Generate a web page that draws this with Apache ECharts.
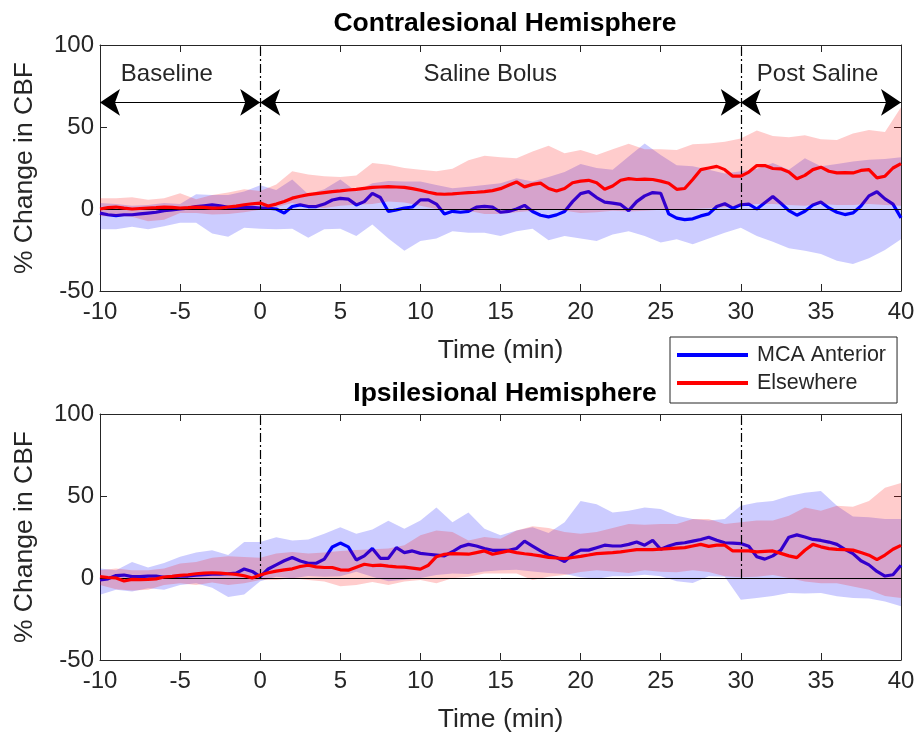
<!DOCTYPE html>
<html><head><meta charset="utf-8">
<script src="https://cdn.jsdelivr.net/npm/echarts@6/dist/echarts.min.js"></script>
<style>html,body{margin:0;padding:0;background:#fff}#chart{width:918px;height:740px}</style>
</head><body><div id="chart"></div>
<script>
// ---- time grids (minutes) ----
const timeHalf = [-10,-9.5,-9,-8.5,-8,-7.5,-7,-6.5,-6,-5.5,
-5,-4.5,-4,-3.5,-3,-2.5,-2,-1.5,-1,-0.5,
0,0.5,1,1.5,2,2.5,3,3.5,4,4.5,
5,5.5,6,6.5,7,7.5,8,8.5,9,9.5,
10,10.5,11,11.5,12,12.5,13,13.5,14,14.5,
15,15.5,16,16.5,17,17.5,18,18.5,19,19.5,
20,20.5,21,21.5,22,22.5,23,23.5,24,24.5,
25,25.5,26,26.5,27,27.5,28,28.5,29,29.5,
30,30.5,31,31.5,32,32.5,33,33.5,34,34.5,
35,35.5,36,36.5,37,37.5,38,38.5,39,39.5,
40];
const timeMin = [-10,-9,-8,-7,-6,-5,-4,-3,-2,-1,
0,1,2,3,4,5,6,7,8,9,
10,11,12,13,14,15,16,17,18,19,
20,21,22,23,24,25,26,27,28,29,
30,31,32,33,34,35,36,37,38,39,
40];

// ---- Contralesional hemisphere ----
const contraMcaMean = [-2.5,-3.5,-4,-3.5,-3.5,-3,-2.5,-2,-1,-0.5,
0,0.5,1.5,2,2.5,2,1,1,1,1,
0.5,0.5,0,-2.5,1.5,2.5,1.5,1.5,3,5.5,
6.5,6,2.5,4.5,9.5,7,-1.5,-0.5,0.6,1.2,
5.6,5.6,3,-3,-1.4,-2,-1.5,1.2,1.6,1.2,
-2,-1.5,0,2.2,-1.5,-3.8,-4.8,-3.6,-1.5,4.5,
9.4,10.6,7,4.2,3.6,2.8,-1,4.5,8,10,
9.6,-3,-5.6,-6.5,-6,-4.2,-3,1.5,3.2,0.5,
2.6,3,0,3.8,7.6,3.5,-1,-3.8,-1.4,2.5,
4.2,0.6,-2,-3.4,-2.4,1.8,8,10.5,6.2,3,
-5.4];
const contraElseMean = [0,0.8,1.2,0.5,0,0.3,0.6,0.8,1.2,1,
0.6,0.8,1.2,1,0.5,0.6,1.2,1.8,2.6,3.2,
3.6,1.8,3,4.6,6.6,7.8,8.8,9.4,10,10.6,
11,11.6,12,12.6,13.2,13.4,13.6,13.4,13.2,12.4,
11.4,10.2,9.2,9,9.2,9.6,10,10.2,10.6,11.2,
12.4,14.5,16.5,13.5,15,15.8,12.5,11,12.5,16,
17,17.5,16,12,14,17.5,18.5,18,18.2,18,
17,15.7,12,12.5,18,24,25,26,24,20,
20,22.5,26.5,26.5,24.7,24.5,22.5,18.5,20.5,24,
25.5,23,22,22.2,22,23.5,24,19,20,25,
27.7];
const contraMcaUpper = [3.6,3,2,2.5,3.6,3,9,8.6,8.6,10.6,
14.5,11.6,18,9,12,18,10.6,15.7,17,16.7,
16.7,14.7,12.6,13.6,14.7,15.7,18.7,16.7,19.5,22.5,
27.5,25,24,32,40,33,26.7,26,24,21.7,
23,24.5,28,24,31,26,27.5,29,30,30.5,
31.5];
const contraMcaLower = [-12.4,-12.4,-10.8,-12.4,-10.5,-8.4,-8.4,-15,-16.9,-11.4,
-12,-12.4,-12,-17.5,-12.4,-12,-16.5,-9.4,-18,-25.5,
-19.5,-18,-13.5,-14.5,-14.5,-16.5,-13.5,-12,-19,-16.5,
-18,-19.5,-15.5,-13.5,-16.5,-20.5,-18.5,-21.5,-18,-14.5,
-11.4,-16.5,-20,-24,-25.5,-27.5,-31.5,-33.5,-30,-25,
-18.5];
const contraElseUpper = [6.6,6.6,7.2,5.6,6.6,9.6,6,8.5,10,12,
11,15,23,21,20,19.5,20.5,28,27,25,
24,23,24.5,29.7,32.5,31.5,31,35,38.5,34,
36,33,36.5,39.8,36.5,36.5,36,39.5,40,41,
43,47.8,44.5,43.8,45,42.5,42,46,48.2,47,
62];
const contraElseLower = [-4.4,-4.4,-4.8,-7.4,-6.5,-2.4,-2.4,-3.4,-3,-2,
-0.5,1,3.6,1,0.6,2,2.6,3,4.6,4,
2,0,0,-1,-3,-3,-2,-1,0,-1,
-2.5,-2,-1,-1.5,-1,-0.5,0,0,0.5,1,
2,3,3,2.5,2,3,2.5,2.5,3,2.5,
2];

// ---- Ipsilesional hemisphere ----
const ipsiMcaMean = [-1.2,-0.5,1.5,1.8,0.8,0.8,1.2,1.2,0.4,0.8,
1.2,1.2,1.8,2,2.4,2.4,2.6,3,5.5,4,
0.8,5.5,8,10.5,12.5,10.4,9,9,11.5,18.9,
21.3,19,11,13.5,18,12,12,18.5,15.5,16.5,
15,14.5,14,13.5,16,19,20.5,19.5,18,16.9,
16.9,16.9,18,22.5,19.5,16.5,13.9,12.5,10,14.5,
17,17,18.5,20,19.5,19.5,20.5,21.9,20,22.9,
17.5,19.5,21,21.5,22.5,23.5,24.9,23,21.5,21.3,
21,19.3,13,11.5,13.5,17,24.9,26.3,25,23.5,
22.9,21.9,20.5,17.5,14.9,10.5,8,4,1.2,2,
7.8];
const ipsiElseMean = [0.8,0.3,0,-1.8,-0.8,-1,-0.8,-0.5,0.6,1,
1.6,2,2.6,3,3.2,3,2.6,2.2,1.4,0,
1.8,3.2,4.2,5,5.6,7,7.8,6.8,6.4,6.4,
5,4.8,6.6,8.4,7.6,7.8,7.2,6.8,6.6,6,
5.4,7.8,13,14.5,14.9,14.7,14.5,15.5,16.5,14.5,
15.5,16.5,15.5,14.8,14.2,13.5,12.6,12.2,11.8,12.5,
13.2,14,14.9,15.2,15.5,15.9,16.6,17.3,17.3,17.3,
17.6,17.9,18.2,18.5,19.5,20.5,19.3,20,20,16.5,
16.5,16.5,15.9,16.2,16.5,15,13.5,12.4,16.9,20.5,
19,17.9,17.5,17.3,17,15.5,13.9,11.2,14,17.5,
19.9];
const ipsiMcaUpper = [5.8,4.8,9.8,6.4,9.2,13,15.5,16.9,14,21.9,
22,24.9,22.9,23.5,27,30.9,27,29.5,34.9,30,
35,43,34,40,30,26,29,31,27.5,34,
47,45,40,41,43,42,38,36,35,36,
44,46,47,50,52,53,44,37.5,37,36,
35.9];
const ipsiMcaLower = [-10.2,-7.2,-8.2,-6.2,-7.2,-4.2,-3.2,-6,-11.6,-10,
-2,0.8,-0.2,1.2,0.8,1,3.8,0.8,-2,-1,
0,1.8,2.8,2.5,4,4.8,5,4,3,2.5,
0.5,-0.5,1,1,2,1,-2,-3,1,0.8,
-13.3,-12.2,-11,-9.2,-9.5,-9.2,-11.2,-12.2,-12.5,-14.3,
-17.3];
const ipsiElseUpper = [4.8,5.8,4.8,4.8,5.8,8.8,9.8,12.4,13.2,12.8,
12.4,14.9,15.9,14.9,15.5,16.5,17,17.5,18,20,
26,28.9,28,22.9,25,24,29,31.5,30.5,28,
27,28,30.5,33,32.5,33,33,36,36,33,
34,35,35,38,43,41,44,43.5,47,55,
58];
const ipsiElseLower = [-4.2,-6.8,-7.6,-7.2,-4.2,-3.2,-4.2,-2.8,-4.2,-3.2,
-1.2,-1.2,-0.2,-1.2,-2.2,-5,-4.2,-2.5,-4.2,-2.2,
-1.2,-3.2,-0.2,0.8,2.8,2.8,2.8,-1.2,0.8,1.8,
3.6,4.8,4,3,4.8,3.8,3.5,4.8,3.6,1,
0.5,0.8,1.8,0,-2.2,-3.2,-3.2,-5.2,-7.2,-11,
-12.2];

// ---- labels ----
const seriesNames = ['MCA Anterior', 'Elsewhere'];
const panelTitles = ['Contralesional Hemisphere', 'Ipsilesional Hemisphere'];
const xAxisTitle = 'Time (min)';
const yAxisTitle = '% Change in CBF';
const phaseBounds = [0, 30];
const phaseSpans = [[-10, 0], [0, 30], [30, 40]];
const phaseLabels = ['Baseline', 'Saline Bolus', 'Post Saline'];
const phaseLabelX = [-8.7, 10.2, 31];
const phaseArrowY = 65;
const phaseLabelY = 82;

const FONT = '"Liberation Sans", Arial, Helvetica, sans-serif';
const AX = '#262626';
const BLUE = '#0000FF', RED = '#FF0000';
const BLUE_BAND = 'rgba(0,0,255,0.2)', RED_BAND = 'rgba(255,0,0,0.2)';

function pairs(t, v) { return t.map((x, i) => [x, v[i]]); }

function bandSeries(name, g, t, lo, hi, color, z, extra) {
  const data = t.map((x, i) => [x, lo[i], hi[i]]);
  const s = {
    type: 'custom', name: name, xAxisIndex: 2 * g, yAxisIndex: 2 * g, z: z, silent: true,
    data: data, encode: { x: 0, y: [1, 2] }, clip: true,
    renderItem: function (params, api) {
      if (params.dataIndex !== 0) return null;
      const pts = [];
      for (let i = 0; i < data.length; i++) pts.push(api.coord([data[i][0], data[i][2]]));
      for (let i = data.length - 1; i >= 0; i--) pts.push(api.coord([data[i][0], data[i][1]]));
      return { type: 'polygon', shape: { points: pts }, style: { fill: color } };
    }
  };
  return Object.assign(s, extra || {});
}

function lineSeries(name, g, t, v, color, z, extra) {
  return Object.assign({
    type: 'line', name: name, xAxisIndex: 2 * g, yAxisIndex: 2 * g, z: z,
    data: pairs(t, v), showSymbol: false, symbol: 'none', smooth: false,
    lineStyle: { color: color, width: 3.2 }, itemStyle: { color: color },
    silent: true, animation: false
  }, extra || {});
}

function refLines() {
  const d = [{ yAxis: 0, lineStyle: { color: '#000', width: 1, type: 'solid' } }];
  phaseBounds.forEach(b => d.push([
    { coord: [b, 0], lineStyle: { color: '#000', width: 1.2, type: [9, 3, 2, 3] } },
    { coord: [b, 100] }
  ]));
  return { silent: true, symbol: 'none', label: { show: false }, data: d, animation: false };
}

const grids = [
  { left: 100, right: 17, top: 45, height: 246 },
  { left: 100, right: 17, top: 414, height: 246 }
];

const xAxis = [], yAxis = [];
[0, 1].forEach(g => {
  const lineS = { show: true, onZero: false, lineStyle: { color: AX, width: 1 } };
  const tickS = { show: true, inside: true, length: 7, lineStyle: { color: AX, width: 1 } };
  xAxis.push({
    type: 'value', gridIndex: g, min: -10, max: 40, interval: 5, position: 'bottom',
    axisLine: lineS, axisTick: tickS, splitLine: { show: false },
    axisLabel: { show: true, fontSize: 24, color: AX, margin: 9, fontFamily: FONT },
    name: xAxisTitle, nameLocation: 'middle', nameGap: 46,
    nameTextStyle: { fontSize: 26.5, color: AX, fontFamily: FONT }
  });
  xAxis.push({
    type: 'value', gridIndex: g, min: -10, max: 40, interval: 5, position: 'top',
    axisLine: lineS, axisTick: tickS, splitLine: { show: false }, axisLabel: { show: false }
  });
  yAxis.push({
    type: 'value', gridIndex: g, min: -50, max: 100, interval: 50, position: 'left',
    axisLine: lineS, axisTick: tickS, splitLine: { show: false },
    axisLabel: { show: true, fontSize: 24, color: AX, margin: 6, fontFamily: FONT },
    name: yAxisTitle, nameLocation: 'middle', nameGap: 62, nameRotate: 90,
    nameTextStyle: { fontSize: 26.5, color: AX, fontFamily: FONT }
  });
  yAxis.push({
    type: 'value', gridIndex: g, min: -50, max: 100, interval: 50, position: 'right',
    axisLine: lineS, axisTick: tickS, splitLine: { show: false }, axisLabel: { show: false }
  });
});

const phaseMarkLine = {
  silent: true, symbol: ['arrow', 'arrow'], symbolSize: 20, label: { show: false },
  lineStyle: { color: '#000', width: 1, type: 'solid' }, animation: false,
  data: phaseSpans.map(s => [{ coord: [s[0], phaseArrowY] }, { coord: [s[1], phaseArrowY] }])
};
const phaseMarkPoint = {
  silent: true, symbol: 'circle', symbolSize: 1, itemStyle: { color: 'rgba(0,0,0,0)' }, animation: false,
  data: phaseLabels.map((s, i) => ({
    coord: [phaseLabelX[i], phaseLabelY], value: s,
    label: { show: true, formatter: s, position: 'inside', align: 'left', verticalAlign: 'middle',
      fontSize: 24, color: AX, fontFamily: FONT }
  }))
};

const series = [
  bandSeries('band-mca-0', 0, timeMin, contraMcaLower, contraMcaUpper, BLUE_BAND, 2, { markLine: refLines() }),
  lineSeries(seriesNames[0], 0, timeHalf, contraMcaMean, BLUE, 3),
  bandSeries('band-else-0', 0, timeMin, contraElseLower, contraElseUpper, RED_BAND, 4),
  lineSeries(seriesNames[1], 0, timeHalf, contraElseMean, RED, 5, { markLine: phaseMarkLine, markPoint: phaseMarkPoint }),
  bandSeries('band-mca-1', 1, timeMin, ipsiMcaLower, ipsiMcaUpper, BLUE_BAND, 2, { markLine: refLines() }),
  lineSeries(seriesNames[0], 1, timeHalf, ipsiMcaMean, BLUE, 3),
  bandSeries('band-else-1', 1, timeMin, ipsiElseLower, ipsiElseUpper, RED_BAND, 4),
  lineSeries(seriesNames[1], 1, timeHalf, ipsiElseMean, RED, 5)
];

const chart = echarts.init(document.getElementById('chart'), null, { renderer: 'canvas' });
chart.setOption({
  animation: false,
  backgroundColor: '#fff',
  textStyle: { fontFamily: FONT },
  title: [
    { text: panelTitles[0], left: 500, top: 5, textAlign: 'center',
      textStyle: { fontSize: 26.5, fontWeight: 'bold', color: '#000', fontFamily: FONT } },
    { text: panelTitles[1], left: 500, top: 375, textAlign: 'center',
      textStyle: { fontSize: 26.5, fontWeight: 'bold', color: '#000', fontFamily: FONT } }
  ],
  legend: {
    data: seriesNames, orient: 'vertical', left: 670, top: 337,
    padding: [6, 11, 8, 7], itemGap: 4, itemWidth: 71, itemHeight: 4, icon: 'rect',
    borderColor: AX, borderWidth: 1, backgroundColor: '#fff',
    textStyle: { fontSize: 21.5, color: AX, lineHeight: 24, fontFamily: FONT, padding: [0, 0, 0, 4] },
    selectedMode: false, z: 20
  },
  grid: grids,
  xAxis: xAxis,
  yAxis: yAxis,
  series: series
});
</script>
</body></html>
